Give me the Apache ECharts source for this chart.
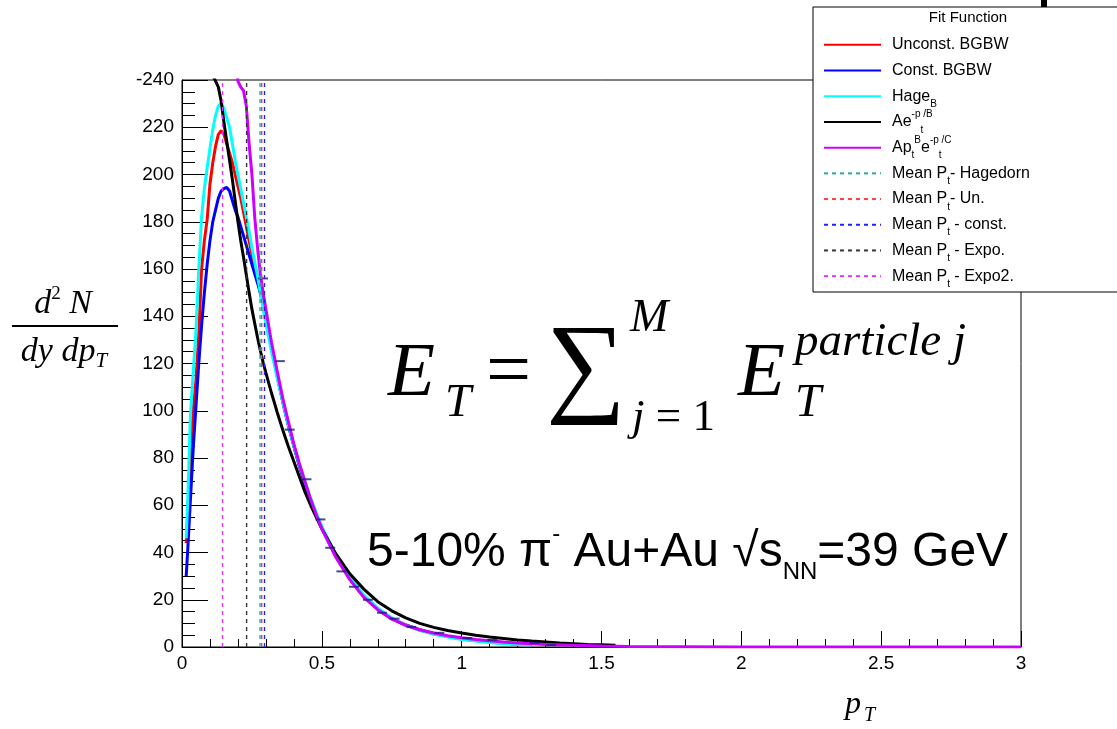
<!DOCTYPE html>
<html>
<head>
<meta charset="utf-8">
<script src="https://cdn.jsdelivr.net/npm/echarts@6/dist/echarts.min.js"></script>
<style>
  body { margin: 0; background: #fff; }
  #chart { width: 1117px; height: 729px; }
</style>
</head>
<body>
<div id="chart"></div>
<script>
// pT grid shared by the three blast-wave / Hagedorn fits
const pt = [0.015, 0.02, 0.03, 0.04, 0.05, 0.06, 0.07, 0.08, 0.09, 0.10,
  0.11, 0.12, 0.13, 0.14, 0.15, 0.16, 0.17, 0.18, 0.19, 0.20,
  0.21, 0.22, 0.23, 0.24, 0.25, 0.26, 0.27, 0.28, 0.29, 0.30,
  0.32, 0.34, 0.36, 0.38, 0.40, 0.42, 0.44, 0.46, 0.48, 0.50,
  0.55, 0.60, 0.65, 0.70, 0.75, 0.80, 0.85, 0.90, 0.95, 1.00,
  1.05, 1.10, 1.15, 1.20, 1.25];

const yUnconst = [44, 55, 80, 100, 113, 132, 160, 172, 181, 196,
  205, 212, 217, 218.5, 217, 213, 209, 205, 200, 195,
  190, 184, 178, 172, 166, 161, 156, 150, 145, 139,
  127, 115, 104, 94, 85, 76.5, 69, 62, 56, 50.5,
  38.5, 29, 21.5, 16, 12, 9.4, 7.3, 5.7, 4.5, 3.5,
  2.8, 2.2, 1.7, 1.3, 1.0];

const yConst = [30, 40, 62, 84, 102, 120, 136, 150, 162, 172,
  180, 185, 190, 193, 194, 194.5, 193, 189, 185, 182,
  178, 174, 170, 166, 162, 158, 154, 150, 145, 140,
  127, 115, 104, 94, 85, 76.5, 69, 62, 56, 50.5,
  38.5, 29, 21.5, 16, 12, 9.3, 7.2, 5.6, 4.4, 3.4,
  2.7, 2.1, 1.6, 1.2, 0.9];

const yHage = [46, 60, 98, 116, 134, 160, 182, 194, 203, 211,
  219, 225, 229, 230, 228, 224, 220, 213, 206, 200,
  194, 188, 182, 176, 169, 163, 157, 150, 143, 137,
  125, 114, 104, 94, 85, 77, 70, 63, 57, 51,
  39, 29.5, 22, 16.5, 12.3, 9.3, 7.1, 5.5, 4.2, 3.2,
  2.5, 1.9, 1.4, 1.1, 0.8];

// A e^{-pt/B}
const ptExpo = [0.08, 0.09, 0.10, 0.11, 0.12, 0.13, 0.14, 0.15, 0.16, 0.17,
  0.18, 0.19, 0.20, 0.21, 0.22, 0.23, 0.24, 0.25, 0.26, 0.27,
  0.28, 0.29, 0.30, 0.32, 0.34, 0.36, 0.38, 0.40, 0.42, 0.44,
  0.46, 0.48, 0.50, 0.55, 0.60, 0.65, 0.70, 0.75, 0.80, 0.85,
  0.90, 0.95, 1.00, 1.05, 1.10, 1.15, 1.20, 1.25, 1.30, 1.35,
  1.40, 1.45, 1.50, 1.55];
const yExpo = [275, 262, 251, 242, 239.5, 237, 231, 222, 214, 206,
  198, 189, 180, 172, 165, 157.5, 150, 143, 137, 131,
  125.5, 120.5, 116, 107.5, 99.5, 92, 85, 78.5, 72, 65.5,
  60, 55, 50, 39.5, 31, 24.5, 19.2, 15.3, 12.3, 10,
  8.3, 7, 5.9, 5, 4.2, 3.6, 3.0, 2.5, 2.1, 1.7,
  1.4, 1.1, 0.9, 0.7];

// A pt^B e^{-pt/C}
const ptExpo2 = [0.17, 0.18, 0.19, 0.20, 0.21, 0.22, 0.23, 0.24, 0.25, 0.26,
  0.27, 0.28, 0.29, 0.30, 0.32, 0.34, 0.36, 0.38, 0.40, 0.42,
  0.44, 0.46, 0.48, 0.50, 0.55, 0.60, 0.65, 0.70, 0.75, 0.80,
  0.85, 0.90, 0.95, 1.00, 1.05, 1.10, 1.15, 1.20, 1.25, 1.30,
  1.40, 1.50, 1.60, 1.80, 2.00, 2.50, 3.00];
const yExpo2 = [275, 262, 250, 239.5, 237, 235.5, 229, 213, 200, 182,
  169, 158, 150, 143, 129, 117, 105.5, 95.5, 86, 77.5,
  70, 62.5, 56, 50, 38, 28.5, 21, 15.8, 11.9, 9.2,
  7.3, 5.9, 4.8, 3.9, 3.2, 2.6, 2.1, 1.7, 1.4, 1.1,
  0.7, 0.4, 0.2, 0.1, 0, 0, 0];

// measured spectrum points (x error bars)
const ptData = [0.29, 0.35, 0.385, 0.445, 0.495, 0.53, 0.57, 0.615, 0.665, 0.715,
  0.76, 0.82, 0.92, 1.02, 1.11, 1.26, 1.32];
const yData = [156, 121, 92, 71, 54, 42, 32, 25.5, 20, 14.5,
  12, 8.5, 6, 3.8, 3, 1.7, 0.8];

// mean pT from each fit: Hagedorn, Un., const., Expo, Expo2
const meanNames = ['Mean Pt- Hagedorn', 'Mean Pt- Un.', 'Mean Pt - const.', 'Mean Pt - Expo.', 'Mean Pt - Expo2.'];
const meanPt = [0.279, 0.285, 0.295, 0.231, 0.145];
const meanColors = ['#2aa9a0', '#ff4040', '#2020ff', '#333333', '#e033ff'];

const fitNames = ['Unconst. BGBW', 'Const. BGBW', 'Hage', 'Ae', 'Ap'];
const fitColors = ['#ff0000', '#0000ff', '#00ffff', '#000000', '#cc00ff'];

const xTicks = [0, 0.5, 1, 1.5, 2, 2.5, 3];

const zip = (xs, ys) => xs.map((x, i) => [x, ys[i]]);
const fitData = [zip(pt, yUnconst), zip(pt, yConst), zip(pt, yHage), zip(ptExpo, yExpo), zip(ptExpo2, yExpo2)];

const chart = echarts.init(document.getElementById('chart'));

const series = [];
fitNames.forEach((name, i) => {
  series.push({
    name: name,
    type: 'line',
    data: fitData[i],
    symbol: 'none',
    clip: true,
    lineStyle: { color: fitColors[i], width: 3 },
    itemStyle: { color: fitColors[i] },
    z: 2 + i
  });
});
series.push({
  name: 'data',
  type: 'scatter',
  data: zip(ptData, yData),
  symbol: 'rect',
  symbolSize: [10, 2],
  itemStyle: { color: '#1c1c80' },
  z: 8
});
meanNames.forEach((name, i) => {
  series.push({
    name: name,
    type: 'line',
    data: [[meanPt[i], 0], [meanPt[i], 240]],
    symbol: 'none',
    lineStyle: { color: meanColors[i], width: 1.4, type: [4, 4] },
    itemStyle: { color: meanColors[i] },
    z: 9
  });
});

// rich-text versions of the ROOT legend labels
const legendLabels = {
  'Unconst. BGBW': '{n|Unconst. BGBW}',
  'Const. BGBW': '{n|Const. BGBW}',
  'Hage': '{n|Hage}{sb|B}',
  'Ae': '{n|Ae}{sp|-p}{sb|t}{sp|/B}',
  'Ap': '{n|Ap}{sb|t}{sp|B}{n|e}{sp|-p}{sb|t}{sp|/C}',
  'Mean Pt- Hagedorn': '{n|Mean P}{sb|t}{n|- Hagedorn}',
  'Mean Pt- Un.': '{n|Mean P}{sb|t}{n|- Un.}',
  'Mean Pt - const.': '{n|Mean P}{sb|t}{n| - const.}',
  'Mean Pt - Expo.': '{n|Mean P}{sb|t}{n| - Expo.}',
  'Mean Pt - Expo2.': '{n|Mean P}{sb|t}{n| - Expo2.}'
};

const serif = 'Liberation Serif';

const option = {
  animation: false,
  backgroundColor: '#fff',
  grid: {
    left: 182, right: 96, top: 80, bottom: 82,
    show: true, borderColor: '#000', borderWidth: 1, backgroundColor: 'transparent'
  },
  xAxis: {
    type: 'value', min: 0, max: 3, interval: 0.5,
    axisLine: { lineStyle: { color: '#000', width: 1 } },
    axisTick: { inside: true, length: 16, lineStyle: { color: '#000' } },
    minorTick: { show: true, splitNumber: 5, length: 8, lineStyle: { color: '#000' } },
    splitLine: { show: false },
    axisLabel: {
      color: '#000', fontSize: 19, fontFamily: 'Liberation Sans', margin: 7,
      formatter: v => xTicks.includes(v) ? String(v) : ''
    }
  },
  yAxis: {
    type: 'value', min: 0, max: 240, interval: 20,
    axisLine: { show: true, lineStyle: { color: '#000', width: 1 } },
    axisTick: { show: true, inside: true, length: 26, lineStyle: { color: '#000' } },
    minorTick: { show: true, splitNumber: 4, length: 13, lineStyle: { color: '#000' } },
    splitLine: { show: false },
    axisLabel: {
      color: '#000', fontSize: 19, fontFamily: 'Liberation Sans', margin: 8,
      formatter: v => v === 240 ? '-240' : String(v)
    }
  },
  legend: {
    data: fitNames.concat(meanNames),
    orient: 'vertical',
    left: 823, top: 32,
    itemWidth: 57, itemHeight: 25.7, itemGap: 0,
    selectedMode: false,
    padding: 0,
    itemStyle: { opacity: 0 },
    formatter: name => legendLabels[name],
    textStyle: {
      color: '#000',
      lineHeight: 25.7,
      padding: [0, 0, 0, 6],
      rich: {
        n: { fontSize: 16, fontFamily: 'Liberation Sans', color: '#000', lineHeight: 25.7 },
        sp: { fontSize: 10, fontFamily: 'Liberation Sans', color: '#000', lineHeight: 12, verticalAlign: 'top' },
        sb: { fontSize: 10, fontFamily: 'Liberation Sans', color: '#000', lineHeight: 12, verticalAlign: 'bottom' }
      }
    },
    z: 10
  },
  graphic: [
    { type: 'rect', shape: { x: 813, y: 7, width: 320, height: 285 },
      style: { fill: '#fff', stroke: '#000', lineWidth: 1 }, z: 6 },
    { type: 'rect', shape: { x: 1041, y: 0, width: 6, height: 7 }, style: { fill: '#000' }, z: 6 },
    { type: 'text', x: 968, y: 18, z: 11,
      style: { text: 'Fit Function', font: '15px Liberation Sans', fill: '#000', align: 'center', verticalAlign: 'middle' } },
    // big formula
    { type: 'text', x: 388, y: 375, style: { text: 'E', font: 'italic 77px ' + serif, fill: '#000', verticalAlign: 'middle' } },
    { type: 'text', x: 445, y: 404, style: { text: 'T', font: 'italic 47px ' + serif, fill: '#000', verticalAlign: 'middle' } },
    { type: 'text', x: 486, y: 375, style: { text: '=', font: '80px ' + serif, fill: '#000', verticalAlign: 'middle' } },
    { type: 'text', x: 546, y: 372, style: { text: '\u2211', font: '112px ' + serif, fill: '#000', verticalAlign: 'middle' } },
    { type: 'text', x: 630, y: 319, style: { text: 'M', font: 'italic 46px ' + serif, fill: '#000', verticalAlign: 'middle' } },
    { type: 'text', x: 632, y: 418, style: { text: '{i|j}{u|\u2005=\u20051}', font: '45px ' + serif, fill: '#000', verticalAlign: 'middle',
      rich: { i: { font: 'italic 45px ' + serif }, u: { font: '45px ' + serif } } } },
    { type: 'text', x: 738, y: 375, style: { text: 'E', font: 'italic 77px ' + serif, fill: '#000', verticalAlign: 'middle' } },
    { type: 'text', x: 795, y: 343, style: { text: 'particle j', font: 'italic 47px ' + serif, fill: '#000', verticalAlign: 'middle' } },
    { type: 'text', x: 795, y: 404, style: { text: 'T', font: 'italic 47px ' + serif, fill: '#000', verticalAlign: 'middle' } },
    // collision label
    { type: 'text', x: 367, y: 553,
      style: {
        text: '{m|5-10% \u03c0}{sp|-}{m| Au+Au \u221as}{sb|NN}{m|=39 GeV}',
        fill: '#000', verticalAlign: 'middle',
        rich: {
          m: { fontSize: 48, fontFamily: 'Liberation Sans', lineHeight: 62 },
          sp: { fontSize: 24, fontFamily: 'Liberation Sans', lineHeight: 30, verticalAlign: 'top' },
          sb: { fontSize: 24, fontFamily: 'Liberation Sans', lineHeight: 30, verticalAlign: 'bottom' }
        }
      } },
    // y title as a fraction
    { type: 'text', x: 63, y: 304,
      style: { text: '{i|d}{s|2}{i| N}', align: 'center', verticalAlign: 'middle', fill: '#000',
        rich: {
          i: { font: 'italic 34px ' + serif, lineHeight: 38 },
          s: { font: '19px ' + serif, lineHeight: 20, verticalAlign: 'top' }
        } } },
    { type: 'rect', shape: { x: 12, y: 325, width: 106, height: 2 }, style: { fill: '#000' } },
    { type: 'text', x: 64, y: 352,
      style: { text: '{i|dy dp}{t|T}', align: 'center', verticalAlign: 'middle', fill: '#000',
        rich: {
          i: { font: 'italic 34px ' + serif, lineHeight: 40 },
          t: { font: 'italic 21px ' + serif, lineHeight: 22, verticalAlign: 'bottom' }
        } } },
    // x title
    { type: 'text', x: 845, y: 705, style: { text: 'p', font: 'italic 32px ' + serif, fill: '#000', verticalAlign: 'middle' } },
    { type: 'text', x: 864, y: 716, style: { text: 'T', font: 'italic 20px ' + serif, fill: '#000', verticalAlign: 'middle' } }
  ],
  series: series
};

chart.setOption(option);
</script>
</body>
</html>
